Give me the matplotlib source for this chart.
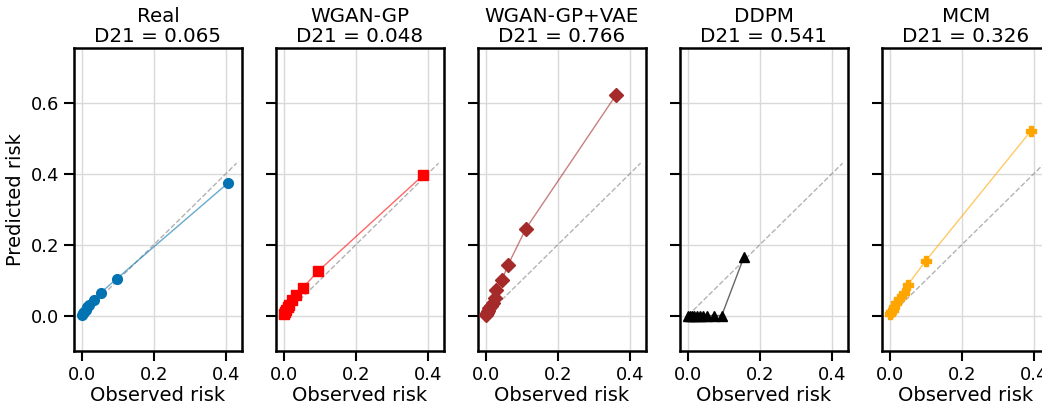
import matplotlib
matplotlib.use("Agg")
import matplotlib.pyplot as plt
import numpy as np

models = ["Real", "WGAN-GP", "WGAN-GP+VAE", "DDPM", "MCM"]
d21 = [0.065, 0.048, 0.766, 0.541, 0.326]
colors = ["#0173b2", "red", "#a52a2a", "black", "orange"]
markers = ["o", "s", "D", "^", "P"]

obs_real = [0.001, 0.003, 0.006, 0.010, 0.014, 0.020, 0.033, 0.053, 0.097, 0.405]
pred_real = [0.002, 0.006, 0.011, 0.017, 0.023, 0.030, 0.045, 0.065, 0.104, 0.373]

obs_wgan = [0.001, 0.003, 0.006, 0.010, 0.014, 0.022, 0.033, 0.053, 0.096, 0.388]
pred_wgan = [0.004, 0.009, 0.016, 0.023, 0.031, 0.045, 0.059, 0.079, 0.126, 0.397]

obs_vae = [0.001, 0.003, 0.006, 0.009, 0.013, 0.019, 0.025, 0.028, 0.044, 0.062, 0.111, 0.362]
pred_vae = [0.002, 0.008, 0.014, 0.020, 0.028, 0.036, 0.050, 0.073, 0.099, 0.144, 0.245, 0.623]

obs_ddpm = [0.001, 0.005, 0.010, 0.016, 0.024, 0.033, 0.043, 0.053, 0.072, 0.094, 0.156]
pred_ddpm = [0.0, 0.0, 0.0, 0.0, 0.0, 0.0, 0.0, 0.0, 0.0, 0.0, 0.166]

obs_mcm = [0.001, 0.004, 0.008, 0.012, 0.018, 0.025, 0.039, 0.050, 0.100, 0.392]
pred_mcm = [0.003, 0.009, 0.017, 0.025, 0.035, 0.048, 0.065, 0.087, 0.155, 0.521]

obs_all = [obs_real, obs_wgan, obs_vae, obs_ddpm, obs_mcm]
pred_all = [pred_real, pred_wgan, pred_vae, pred_ddpm, pred_mcm]

diag = [0.0, 0.43]
xticks = [0.0, 0.2, 0.4]
yticks = [0.0, 0.2, 0.4, 0.6]

fig = plt.figure(figsize=(10.42, 4.07), dpi=100)
W, H = 1042, 407
for i, m in enumerate(models):
    left = (74 + 202 * i) / W
    ax = fig.add_axes([left, (H - 351) / H, 168 / W, (351 - 48) / H])
    ax.plot(diag, diag, ls="--", color="gray", alpha=0.6, lw=1, zorder=1)
    ax.plot(obs_all[i], pred_all[i], color=colors[i], marker=markers[i],
            ms=7, lw=1, alpha=1, zorder=3, linestyle="none")
    ax.plot(obs_all[i], pred_all[i], color=colors[i], lw=1, alpha=0.6, zorder=2)
    ax.set_xlim(-0.022, 0.445)
    ax.set_ylim(-0.1, 0.755)
    ax.set_xticks(xticks)
    ax.set_yticks(yticks)
    ax.grid(True, color="#d9d9d9", lw=1)
    ax.set_axisbelow(True)
    for s in ax.spines.values():
        s.set_linewidth(1.8)
        s.set_color("black")
    ax.tick_params(labelsize=13, width=1.5, length=7)
    ax.set_xlabel("Observed risk", fontsize=14, labelpad=2)
    if i == 0:
        ax.set_ylabel("Predicted risk", fontsize=14)
    else:
        ax.tick_params(labelleft=False)
    ax.set_title(f"{m}\nD21 = {d21[i]:.3f}", fontsize=14.3, linespacing=1.1, pad=4)

fig.savefig("out.png", dpi=100)
